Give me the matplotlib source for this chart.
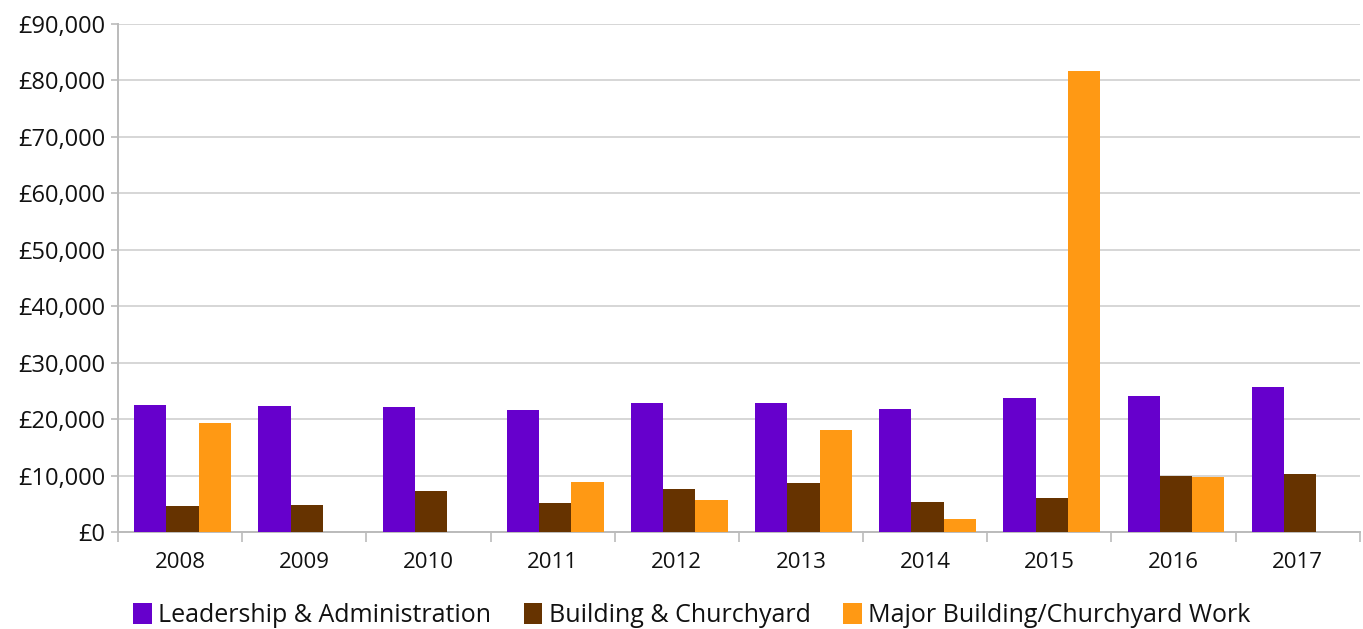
import matplotlib.pyplot as plt
import numpy as np
from matplotlib.ticker import FuncFormatter, FixedLocator

years = ["2008", "2009", "2010", "2011", "2012", "2013", "2014", "2015", "2016", "2017"]
series_names = [
    "Leadership & Administration",
    "Building & Churchyard",
    "Major Building/Churchyard Work",
]
leadership = [22530, 22410, 22120, 21650, 22820, 22820, 21760, 23820, 24060, 25760]
building = [4590, 4880, 7350, 5240, 7650, 8760, 5410, 6060, 9880, 10290]
major_work = [19410, 0, 0, 8940, 5760, 18000, 2350, 81600, 9700, 0]

colors = ["#6600CC", "#663300", "#FF9914"]

plt.rcParams["font.family"] = ["Open Sans", "DejaVu Sans"]

fig = plt.figure(figsize=(13.63, 6.29), dpi=100)
ax = fig.add_axes([0.0866, 0.154, 0.911, 0.808])

x = np.arange(len(years))
width = 0.26
for i, (name, vals, color) in enumerate(zip(series_names, [leadership, building, major_work], colors)):
    ax.bar(x + (i - 1) * width + 0.02, vals, width, label=name, color=color, zorder=3)

ax.set_xlim(-0.5, len(years) - 0.5)
ax.set_ylim(0, 90000)
ax.set_yticks(np.arange(0, 90001, 10000))
ax.yaxis.set_major_formatter(FuncFormatter(lambda v, _: f"£{int(v):,}"))
ax.grid(axis="y", color="#d0d0d0", linewidth=1.2, zorder=0)

ax.set_xticks(x)
ax.set_xticklabels(years)
ax.xaxis.set_minor_locator(FixedLocator(np.arange(-0.5, len(years), 1.0)))
ax.tick_params(axis="x", which="major", length=0, pad=14, labelsize=16, colors="#111111")
ax.tick_params(axis="x", which="minor", length=7, color="#bbbbbb", width=1.2)
ax.tick_params(axis="y", length=5, color="#bbbbbb", width=1.2, labelsize=17, colors="#111111", pad=4)
for lbl in ax.get_xticklabels() + ax.get_yticklabels():
    lbl.set_color("#111111")
    lbl.set_fontweight("medium")

for side in ["top", "right"]:
    ax.spines[side].set_visible(False)
for side in ["left", "bottom"]:
    ax.spines[side].set_color("#bbbbbb")
    ax.spines[side].set_linewidth(1.4)

leg = ax.legend(
    loc="upper center",
    bbox_to_anchor=(0.462, -0.095),
    ncol=3,
    frameon=False,
    fontsize=18,
    handlelength=0.75,
    handleheight=0.9,
    handletextpad=0.25,
    columnspacing=1.3,
)
for t in leg.get_texts():
    t.set_color("#111111")

fig.savefig("out.png", dpi=100)
